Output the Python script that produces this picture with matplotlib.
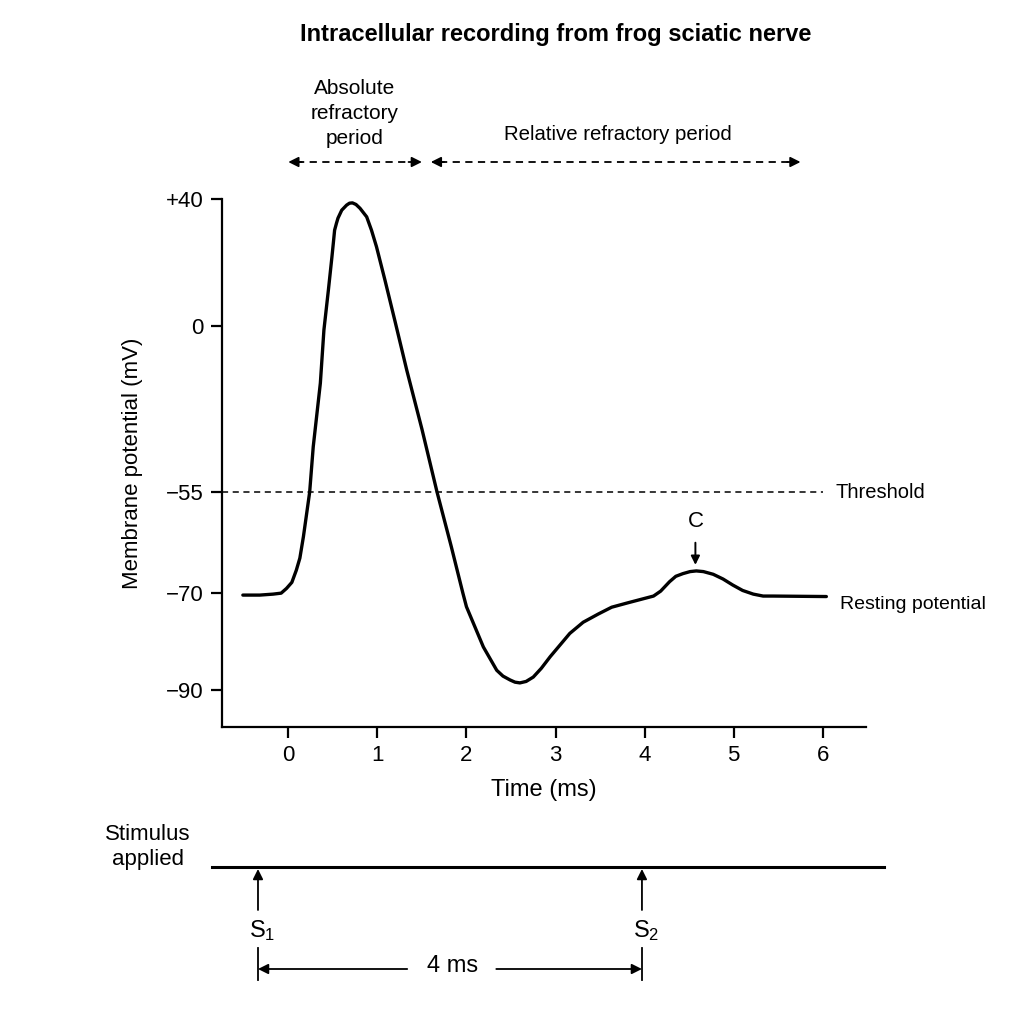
import numpy as np
import matplotlib
matplotlib.use("Agg")
import matplotlib.pyplot as plt
import matplotlib.transforms as mtransforms

plt.rcParams['font.family'] = ['Liberation Sans', 'DejaVu Sans']
plt.rcParams['mathtext.fontset'] = 'custom'
plt.rcParams['mathtext.rm'] = 'Liberation Sans'
plt.rcParams['mathtext.it'] = 'Liberation Sans'

# membrane potential trace (time in ms, potential in mV)
time_ms = [-0.51, -0.32, -0.17, -0.08, -0.02, 0.04, 0.09, 0.13, 0.17, 0.24,
           0.28, 0.36, 0.40, 0.45, 0.49, 0.507, 0.52, 0.541, 0.558, 0.60,
           0.655, 0.687, 0.72, 0.76, 0.805, 0.88, 0.934, 0.99, 1.085, 1.20,
           1.33, 1.50, 1.67, 1.83, 1.96, 2.00, 2.19, 2.34, 2.41, 2.49,
           2.545, 2.60, 2.67, 2.75, 2.84, 2.94, 3.16, 3.31, 3.48, 3.63,
           3.81, 4.10, 4.18, 4.28, 4.35, 4.43, 4.51, 4.58, 4.66, 4.77,
           4.88, 4.99, 5.10, 5.22, 5.33, 5.44, 6.04]
potential_mv = [-70.4, -70.4, -70.2, -70.0, -69.3, -68.4, -66.6, -64.8, -61.6, -55.0,
                -40.0, -18.9, -1.3, 11.3, 21.8, 26.5, 30.2, 32.4, 34.0, 36.5,
                38.1, 38.7, 38.8, 38.3, 37.1, 34.4, 30.2, 25.0, 14.5, 1.3,
                -14.6, -34.1, -55.0, -63.1, -70.0, -72.8, -81.1, -85.9, -87.1, -87.9,
                -88.35, -88.5, -88.2, -87.3, -85.5, -83.1, -78.3, -76.0, -74.3, -72.9,
                -72.0, -70.6, -69.7, -68.3, -67.5, -67.1, -66.8, -66.7, -66.8, -67.2,
                -67.9, -68.8, -69.6, -70.2, -70.6, -70.6, -70.7]

threshold_mv = -55
threshold_end = 6.0
y_ticks = [40, 0, -55, -70, -90]
y_ticklabels = ['+40', '0', '\u221255', '\u221270', '\u221290']
x_ticks = [0, 1, 2, 3, 4, 5, 6]

periods = [(0.0, 1.5), (1.6, 5.75)]
stim_times = [-0.34, 3.97]
stim_labels = ['S$_1$', 'S$_2$']
c_time, c_mv = 4.57, -66.7

# the original axis is not linear in mV: piecewise mapping between the ticks
knot_mv = np.array([-120, -90, -70, -55, 0, 40, 60])
knot_pos = np.array([-108.5, 37, 134, 235, 401, 528, 591.5])


def fwd(v):
    return np.interp(v, knot_mv, knot_pos)


def inv(p):
    return np.interp(p, knot_pos, knot_mv)


fig = plt.figure(figsize=(10.24, 10.24), dpi=100)
ax = fig.add_axes([0.2168, 0.2900, 0.6289, 0.5156])
ax.set_yscale('function', functions=(fwd, inv))

ax.plot(time_ms, potential_mv, color='black', lw=2.4, solid_capstyle='round',
        solid_joinstyle='round')
ax.hlines(threshold_mv, -0.744, threshold_end, colors='black', linestyles=(0, (4, 3)), lw=1.1)

ax.set_xlim(-0.744, 6.485)
ax.set_ylim(-97.6, 40)
ax.set_yticks(y_ticks)
ax.set_yticklabels(y_ticklabels)
ax.set_xticks(x_ticks)
ax.spines['top'].set_visible(False)
ax.spines['right'].set_visible(False)
for s in ['left', 'bottom']:
    ax.spines[s].set_linewidth(1.6)
ax.tick_params(direction='out', length=8, width=1.6, labelsize=16, pad=5)
ax.set_xlabel('Time (ms)', fontsize=17, labelpad=9)
ax.set_ylabel('Membrane potential (mV)', fontsize=16, labelpad=17)

ax.text(6.14, threshold_mv, 'Threshold', fontsize=14.5, va='center', ha='left')
ax.text(6.19, -72.3, 'Resting potential', fontsize=14, va='center', ha='left')
ax.annotate('C', xy=(c_time, c_mv + 0.9), xytext=(c_time, -59.3), ha='center', va='center',
            fontsize=16, arrowprops=dict(arrowstyle='-|>', color='black', lw=1.4,
                                         mutation_scale=13, shrinkA=6, shrinkB=0))

fig.text(0.543, 1 - 35 / 1024, 'Intracellular recording from frog sciatic nerve',
         ha='center', va='center', fontsize=17, fontweight='bold')

# refractory period arrows above the plot
trans = mtransforms.blended_transform_factory(ax.transData, fig.transFigure)
arrow_y = 1 - 162 / 1024
for t0, t1 in periods:
    ax.plot([t0 + 0.1, t1 - 0.1], [arrow_y, arrow_y], transform=trans, color='black',
            lw=1.3, ls=(0, (4, 3)), clip_on=False)
    for a, b in [(t0 + 0.15, t0), (t1 - 0.15, t1)]:
        ax.annotate('', xy=(b, arrow_y), xytext=(a, arrow_y), xycoords=trans,
                    textcoords=trans, arrowprops=dict(arrowstyle='-|>', color='black', lw=1.3,
                                                      mutation_scale=15, shrinkA=0, shrinkB=0))
abs_mid = (periods[0][0] + periods[0][1]) / 2 - 0.01
for i, line in enumerate(['Absolute', 'refractory', 'period']):
    ax.text(abs_mid, 1 - (89 + 24.5 * i) / 1024, line, transform=trans, ha='center',
            va='center', fontsize=15)
ax.text((periods[1][0] + periods[1][1]) / 2 + 0.02, 1 - 135 / 1024, 'Relative refractory period',
        transform=trans, ha='center', va='center', fontsize=14.7)

# stimulus line underneath, sharing the time axis
ax_s = fig.add_axes([0.2168, 0.0, 0.6289, 0.2])
ax_s.set_xlim(ax.get_xlim())
ax_s.set_ylim(1024, 819.2)
ax_s.axis('off')
ax_s.plot([-0.856, 6.685], [867, 867], color='black', lw=2.2, clip_on=False)
ax_s.text(-1.575, 835, 'Stimulus', ha='center', va='center', fontsize=16)
ax_s.text(-1.575, 860, 'applied', ha='center', va='center', fontsize=16)
for t, lab in zip(stim_times, stim_labels):
    ax_s.annotate('', xy=(t, 869), xytext=(t, 910),
                  arrowprops=dict(arrowstyle='-|>', color='black', lw=1.3,
                                  mutation_scale=15, shrinkA=0, shrinkB=0))
    ax_s.text(t + 0.05, 931, lab, ha='center', va='center', fontsize=17)
    ax_s.plot([t, t], [948, 980], color='black', lw=1.3, clip_on=False)
mid = (stim_times[0] + stim_times[1]) / 2
ax_s.text(mid + 0.03, 966, '4 ms', ha='center', va='center', fontsize=17)
for a, b in [(mid - 0.48, stim_times[0]), (mid + 0.52, stim_times[1])]:
    ax_s.annotate('', xy=(b, 969), xytext=(a, 969),
                  arrowprops=dict(arrowstyle='-|>', color='black', lw=1.3,
                                  mutation_scale=15, shrinkA=0, shrinkB=0))

fig.savefig('out.png', dpi=100)
